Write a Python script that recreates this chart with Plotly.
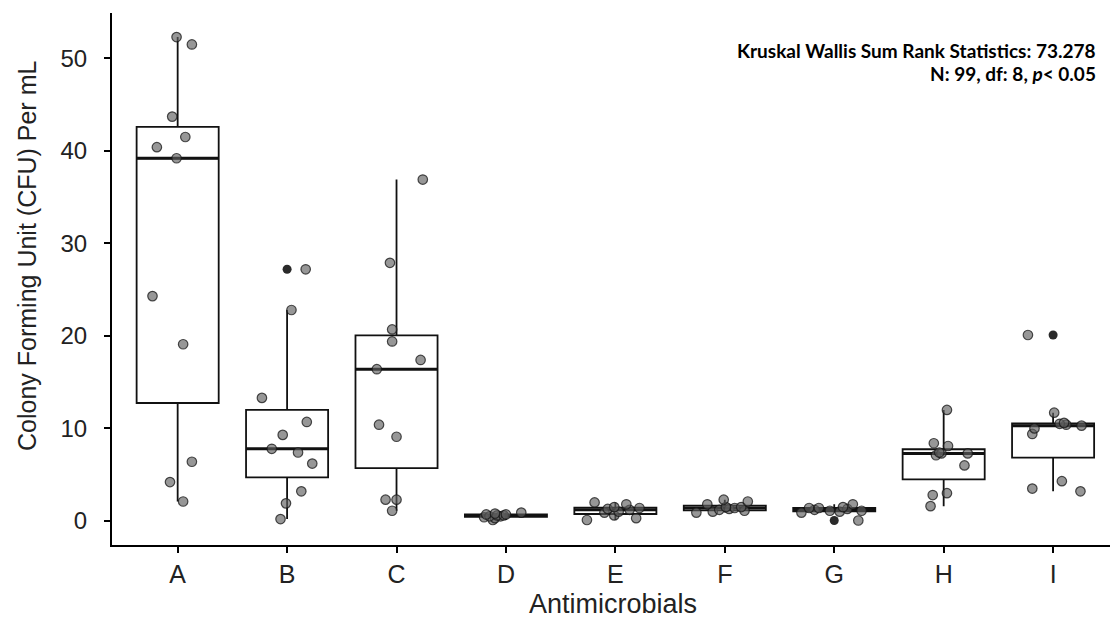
import numpy as np
import plotly.graph_objects as go

categories = ["A", "B", "C", "D", "E", "F", "G", "H", "I"]

vals_A = [52.3, 51.5, 43.7, 41.5, 40.4, 39.2, 24.3, 19.1, 6.4, 4.2, 2.1]
vals_B = [27.2, 22.8, 13.3, 10.7, 9.3, 7.8, 7.4, 6.2, 3.2, 1.9, 0.2]
vals_C = [36.9, 27.9, 20.7, 19.4, 17.4, 16.4, 10.4, 9.1, 2.3, 2.3, 1.1]
vals_D = [0.1, 0.3, 0.4, 0.5, 0.5, 0.6, 0.6, 0.7, 0.7, 0.8, 0.9]
vals_E = [0.1, 0.3, 0.6, 0.9, 1.0, 1.2, 1.3, 1.4, 1.5, 1.8, 2.0]
vals_F = [0.9, 1.0, 1.1, 1.2, 1.3, 1.4, 1.5, 1.5, 1.8, 2.1, 2.3]
vals_G = [0.05, 0.9, 1.0, 1.1, 1.1, 1.2, 1.3, 1.4, 1.4, 1.5, 1.8]
vals_H = [1.6, 2.8, 3.0, 6.0, 7.1, 7.3, 7.3, 7.4, 8.1, 8.4, 12.0]
vals_I = [3.2, 3.5, 4.3, 9.4, 10.0, 10.3, 10.4, 10.5, 10.6, 11.7, 20.1]

# horizontal jitter offsets (category units)
jit_A = [-0.01, 0.13, -0.05, 0.07, -0.19, -0.01, -0.23, 0.05, 0.13, -0.07, 0.05]
jit_B = [0.17, 0.04, -0.23, 0.18, -0.04, -0.14, 0.10, 0.23, 0.13, -0.01, -0.06]
jit_C = [0.24, -0.06, -0.04, -0.04, 0.22, -0.18, -0.16, 0.00, -0.10, 0.00, -0.04]
jit_D = [-0.12, -0.10, -0.20, -0.05, -0.15, -0.08, -0.02, -0.18, 0.00, -0.10, 0.14]
jit_E = [-0.26, 0.19, -0.01, -0.10, 0.03, 0.13, -0.07, 0.22, -0.01, 0.10, -0.19]
jit_F = [-0.26, -0.11, 0.18, -0.05, 0.04, 0.09, 0.15, 0.01, -0.16, 0.21, -0.01]
jit_G = [0.22, -0.30, 0.05, -0.04, 0.25, -0.18, 0.12, -0.23, -0.14, 0.08, 0.17]
jit_H = [-0.12, -0.10, 0.03, 0.19, -0.07, 0.22, -0.02, -0.04, 0.04, -0.09, 0.03]
jit_I = [0.25, -0.19, 0.08, -0.19, -0.17, 0.26, 0.12, 0.06, 0.10, 0.01, -0.23]

groups = [vals_A, vals_B, vals_C, vals_D, vals_E, vals_F, vals_G, vals_H, vals_I]
jitters = [jit_A, jit_B, jit_C, jit_D, jit_E, jit_F, jit_G, jit_H, jit_I]

y_ticks = [0, 10, 20, 30, 40, 50]

BOX_W = 0.75
fig = go.Figure()

for i, vals in enumerate(groups):
    fig.add_trace(go.Box(
        x=[i] * len(vals), y=vals, width=BOX_W,
        fillcolor="white", line=dict(color="#111", width=1.8),
        boxpoints="outliers", pointpos=0, jitter=0, whiskerwidth=0,
        quartilemethod="inclusive",
        marker=dict(color="#2a2a2a", size=9, line=dict(width=0)),
        showlegend=False, hoverinfo="skip",
    ))
    med = float(np.median(vals))
    fig.add_trace(go.Scatter(
        x=[i - BOX_W / 2, i + BOX_W / 2], y=[med, med], mode="lines",
        line=dict(color="#111", width=3), showlegend=False, hoverinfo="skip",
    ))

for i, (vals, jit) in enumerate(zip(groups, jitters)):
    fig.add_trace(go.Scatter(
        x=[i + j for j in jit], y=vals, mode="markers",
        marker=dict(size=9.5, color="rgba(95,95,95,0.65)",
                    line=dict(color="rgba(20,20,20,0.75)", width=1.2)),
        showlegend=False, hoverinfo="skip",
    ))

fig.add_annotation(text="<b>Kruskal Wallis Sum Rank Statistics: 73.278</b>",
                   xref="paper", yref="paper", x=(1098 - 112) / 998, y=(545 - 50) / 532,
                   xanchor="right", yanchor="middle", showarrow=False,
                   font=dict(family="Lato, Open Sans", size=19, color="black"))
fig.add_annotation(text="<b>N: 99, df: 8, <i>p</i>< 0.05</b>",
                   xref="paper", yref="paper", x=(1098 - 112) / 998, y=(545 - 73) / 532,
                   xanchor="right", yanchor="middle", showarrow=False,
                   font=dict(family="Lato, Open Sans", size=19, color="black"))

fig.add_annotation(text="Colony Forming Unit (CFU) Per mL", textangle=-90,
                   xref="paper", yref="paper", x=(27 - 112) / 998, y=(545 - 256) / 532,
                   xanchor="center", yanchor="middle", showarrow=False,
                   font=dict(family="Liberation Sans, Arial", size=25, color="#222"))
fig.add_annotation(text="Antimicrobials",
                   xref="paper", yref="paper", x=0.502, y=(545 - 604) / 532,
                   xanchor="center", yanchor="middle", showarrow=False,
                   font=dict(family="Liberation Sans, Arial", size=27, color="#222"))

fig.update_layout(
    width=1110, height=618,
    margin=dict(l=112, r=0, t=13, b=73),
    paper_bgcolor="white", plot_bgcolor="white",
    boxmode="overlay", showlegend=False,
    xaxis=dict(range=[-0.6, 8.52], tickmode="array",
               tickvals=list(range(len(categories))), ticktext=categories,
               showgrid=False, zeroline=False, showline=True,
               linecolor="black", linewidth=2, ticks="outside", ticklen=6,
               tickcolor="black", tickwidth=1.5,
               tickfont=dict(family="Liberation Sans, Arial", size=25, color="#222")),
    yaxis=dict(range=[-2.6, 54.9], tickmode="array", tickvals=y_ticks,
               showgrid=False, zeroline=False, showline=True,
               linecolor="black", linewidth=2, ticks="outside", ticklen=6,
               tickcolor="black", tickwidth=1.5, ticklabelstandoff=12,
               tickfont=dict(family="Liberation Sans, Arial", size=24, color="#222")),
)

fig.write_html("out.html", config={"displayModeBar": False},
               post_script="document.body.style.margin='0px';document.body.style.overflow='hidden';")
